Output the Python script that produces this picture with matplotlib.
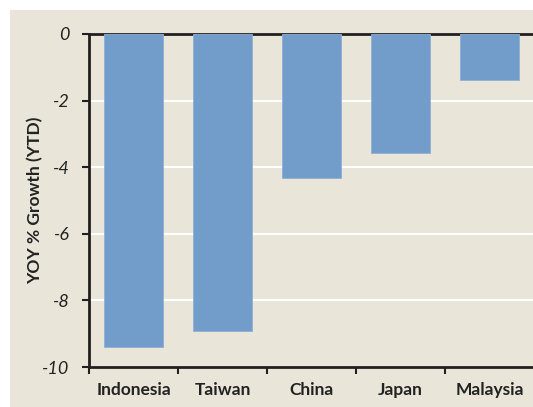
import matplotlib
matplotlib.use("Agg")
import matplotlib.pyplot as plt
import matplotlib.patches as patches

countries = ["Indonesia", "Taiwan", "China", "Japan", "Malaysia"]
yoy_growth = [-9.4, -8.92, -4.33, -3.57, -1.38]
y_ticks = [0, -2, -4, -6, -8, -10]

BG = "#E9E6D9"
BAR = "#729DCB"
FONT = ["Lato", "DejaVu Sans"]

fig = plt.figure(figsize=(5.33, 4.07), dpi=100)
fig.patch.set_facecolor("white")

# beige panel behind the chart, leaving a thin white border top/left
fig.patches.append(patches.Rectangle((10 / 533, 0), 1 - 10 / 533, 1 - 10 / 407,
                                     transform=fig.transFigure, facecolor=BG,
                                     edgecolor="none", zorder=-5))

ax = fig.add_axes([89 / 533, 1 - 367 / 407, 445 / 533, 333 / 407])
ax.set_facecolor(BG)

x = range(len(countries))
ax.bar(x, yoy_growth, width=0.66, color=BAR, edgecolor="#8FB0D6", linewidth=0.6, zorder=3)

ax.set_ylim(-10, 0)
ax.set_xlim(-0.5, len(countries) - 0.5)
ax.set_yticks(y_ticks)
ax.set_yticklabels([str(t) for t in y_ticks], fontstyle="italic", fontsize=13,
                   family=FONT, color="#222222")

# gridlines in white
for t in y_ticks[1:-1]:
    ax.axhline(t, color="white", linewidth=1.5, zorder=1)

ax.set_xticks([i + 0.5 for i in range(-1, len(countries) - 1)], minor=False)
ax.set_xticklabels([])
ax.set_xticks(list(x), minor=True)
ax.set_xticklabels(countries, minor=True, fontweight="bold", fontsize=12.5,
                   family=FONT, color="#222222")
ax.tick_params(axis="x", which="minor", length=0, pad=11)
ax.tick_params(axis="x", which="major", length=5, width=1.5, color="#231F20")
ax.tick_params(axis="y", length=5, width=1.5, color="#231F20", pad=9)

ax.set_ylabel("YOY % Growth (YTD)", fontweight="bold", fontsize=12.5,
              family=FONT, color="#222222")
ax.yaxis.set_label_coords(-0.103, 0.5)

for side in ["left", "bottom", "top"]:
    ax.spines[side].set_color("#231F20")
    ax.spines[side].set_linewidth(2)
ax.spines["right"].set_visible(False)

fig.savefig("out.png", dpi=100, facecolor=fig.get_facecolor())
